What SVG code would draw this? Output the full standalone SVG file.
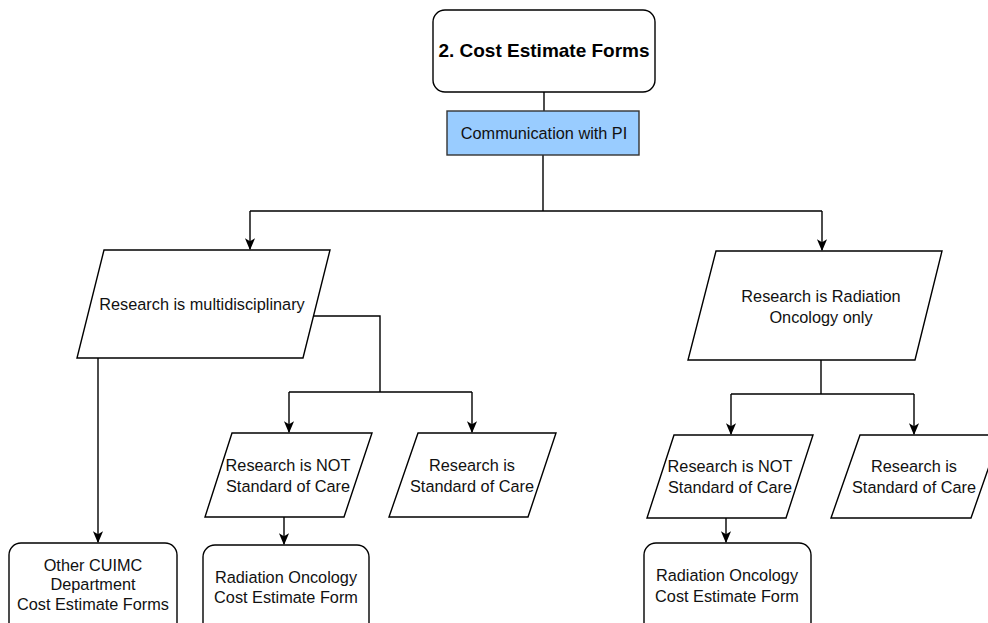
<svg xmlns="http://www.w3.org/2000/svg" width="988" height="623" viewBox="0 0 988 623">
<defs>
<marker id="arr" viewBox="0 0 10 10" refX="9" refY="5" markerWidth="12" markerHeight="12" markerUnits="userSpaceOnUse" orient="auto">
<path d="M0,0.8 L10,5 L0,9.2 L2.5,5 Z" fill="#000"/>
</marker>
<style>
.shape{fill:#fff;stroke:#000;stroke-width:1.4}
.blue{fill:#99ccff;stroke:#333;stroke-width:1.4}
.t{font-family:"Liberation Sans",Arial,sans-serif;font-size:16.3px;fill:#111;text-anchor:middle}
.title{font-family:"Liberation Sans",Arial,sans-serif;font-size:19px;font-weight:bold;fill:#000;text-anchor:middle}
.c{fill:none;stroke:#000;stroke-width:1.4}
.ca{fill:none;stroke:#000;stroke-width:1.4;marker-end:url(#arr)}
</style>
</defs>
<rect width="988" height="623" fill="#fff"/>
<g id="connectors">
<path class="c" d="M544,92 V111"/>
<path class="c" d="M543,155 V211 M250,211 H822"/>
<path class="ca" d="M250,211 V249"/>
<path class="ca" d="M822,211 V250"/>
<path class="c" d="M313.5,316 H380 V392 M289,392 H472"/>
<path class="ca" d="M289,392 V432"/>
<path class="ca" d="M472,392 V432"/>
<path class="ca" d="M98,358 V542"/>
<path class="ca" d="M284,517 V544"/>
<path class="c" d="M821,360 V394 M731,394 H914"/>
<path class="ca" d="M731,394 V434"/>
<path class="ca" d="M914,394 V434"/>
<path class="ca" d="M726,518 V542"/>
</g>
<g id="title">
<rect class="shape" x="433" y="10" width="222" height="82" rx="12"/>
<text class="title" x="544" y="57">2. Cost Estimate Forms</text>
</g>
<g id="comm">
<rect class="blue" x="447" y="111" width="192" height="44"/>
<text class="t" x="544" y="139">Communication with PI</text>
</g>
<g id="multi">
<polygon class="shape" points="104,250 330,250 303,358 77,358"/>
<text class="t" x="202" y="310">Research is multidisciplinary</text>
</g>
<g id="radonly">
<polygon class="shape" points="716,251 942,251 915,360 688,360"/>
<text class="t" x="821" y="302">Research is Radiation</text>
<text class="t" x="821" y="323">Oncology only</text>
</g>
<g id="notsoc1">
<polygon class="shape" points="232,433 372,433 344,517 205,517"/>
<text class="t" x="288" y="471">Research is NOT</text>
<text class="t" x="288" y="492">Standard of Care</text>
</g>
<g id="soc1">
<polygon class="shape" points="418,433 556,433 528,517 389,517"/>
<text class="t" x="472" y="471">Research is</text>
<text class="t" x="472" y="492">Standard of Care</text>
</g>
<g id="notsoc2">
<polygon class="shape" points="674,435 813,435 786,518 647,518"/>
<text class="t" x="730" y="472">Research is NOT</text>
<text class="t" x="730" y="493">Standard of Care</text>
</g>
<g id="soc2">
<polygon class="shape" points="860,435 1000,435 971,518 831,518"/>
<text class="t" x="914" y="472">Research is</text>
<text class="t" x="914" y="493">Standard of Care</text>
</g>
<g id="other">
<rect class="shape" x="9" y="543" width="168" height="100" rx="12"/>
<text class="t" x="93" y="571">Other CUIMC</text>
<text class="t" x="93" y="590">Department</text>
<text class="t" x="93" y="610">Cost Estimate Forms</text>
</g>
<g id="rof1">
<rect class="shape" x="203" y="545" width="166" height="100" rx="12"/>
<text class="t" x="286" y="583">Radiation Oncology</text>
<text class="t" x="286" y="603">Cost Estimate Form</text>
</g>
<g id="rof2">
<rect class="shape" x="644" y="543" width="167" height="100" rx="12"/>
<text class="t" x="727" y="581">Radiation Oncology</text>
<text class="t" x="727" y="602">Cost Estimate Form</text>
</g>
</svg>
